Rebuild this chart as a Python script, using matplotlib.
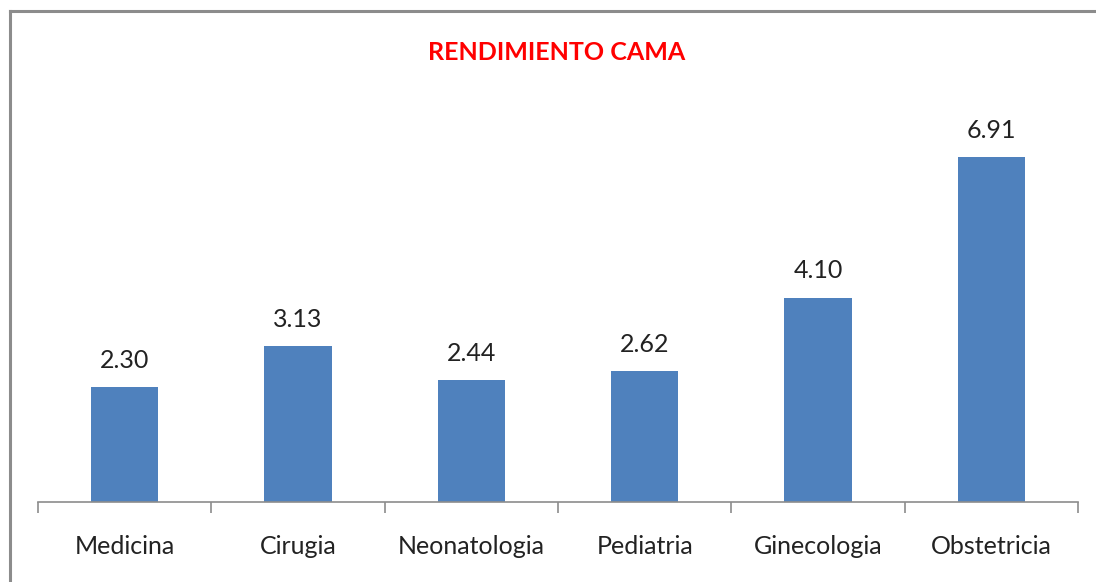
import matplotlib
matplotlib.use("Agg")
import matplotlib.pyplot as plt

categories = ["Medicina", "Cirugia", "Neonatologia", "Pediatria", "Ginecologia", "Obstetricia"]
values = [2.30, 3.13, 2.44, 2.62, 4.10, 6.91]
title = "RENDIMIENTO CAMA"

plt.rcParams['font.family'] = ['Lato', 'DejaVu Sans']

fig = plt.figure(figsize=(10.96, 5.82), dpi=100)
W, H = 1096, 582
# outer border (top and left visible)
fig.add_artist(plt.Line2D([10/W, 10/W], [0, 1 - 11/H], color='#8c8c8c', lw=2.2, transform=fig.transFigure))
fig.add_artist(plt.Line2D([10/W, 1], [1 - 11/H, 1 - 11/H], color='#8c8c8c', lw=2.2, transform=fig.transFigure))

left, right = 38/W, 1078/W
bottom, top = 1 - 502/H, 1 - 103/H
ax = fig.add_axes([left, bottom, right - left, top - bottom])
x = range(len(categories))
ax.bar(x, values, width=0.39, color='#4f81bd', zorder=2)
ax.set_xlim(-0.5, len(categories) - 0.5)
ax.set_ylim(0, 8)
for s in ['top', 'right', 'left']:
    ax.spines[s].set_visible(False)
ax.spines['bottom'].set_color('#8c8c8c')
ax.spines['bottom'].set_linewidth(1.2)
ax.set_yticks([])
ax.set_xticks([i - 0.5 for i in range(len(categories) + 1)], minor=False)
ax.set_xticklabels([])
ax.tick_params(axis='x', which='major', length=8, color='#8c8c8c', width=1.2)
ax.set_xticks(list(x), minor=True)
ax.set_xticklabels(categories, minor=True, fontsize=18, color='#222222')
ax.tick_params(axis='x', which='minor', length=0, pad=24)
for xi, v in zip(x, values):
    ax.annotate(f"{v:.2f}", (xi, v), xytext=(0, 11), textcoords='offset points',
                ha='center', va='bottom', fontsize=18, color='#222222')

fig.text(557/W, 1 - 52/H, title, ha='center', va='center', color='red',
         fontsize=18, fontweight='bold')

fig.savefig("out.png", dpi=100)
